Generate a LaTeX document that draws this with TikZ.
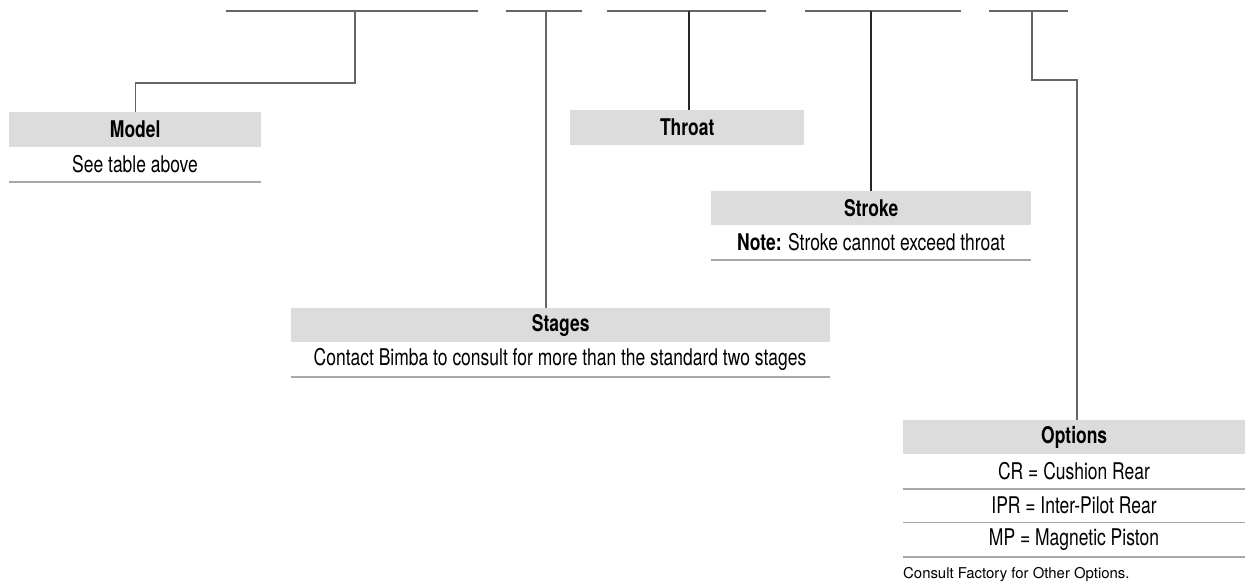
\documentclass[tikz,border=0pt]{standalone}
\usepackage{fontspec}
\setmainfont{TeX Gyre Heros}[FakeStretch=0.76]
\newfontfamily\wideheros{TeX Gyre Heros}
\definecolor{hdrgray}{HTML}{DCDCDD}
\definecolor{conngray}{HTML}{666666}
\definecolor{rowgray}{HTML}{A8A8A8}
\begin{document}
\begin{tikzpicture}[x=1pt,y=-1pt,
  hdr/.style={fill=hdrgray, inner sep=0pt, anchor=north west, text=black,
    font=\bfseries\fontsize{23}{27}\selectfont},
  rowtxt/.style={inner sep=0pt, anchor=center, text=black,
    font=\fontsize{23}{27}\selectfont},
  foot/.style={inner sep=0pt, anchor=west, text=black,
    font=\wideheros\fontsize{14.9}{17}\selectfont},
  conn/.style={draw=conngray, line width=1.2pt},
  topline/.style={draw=conngray, line width=1.4pt},
  rowline/.style={draw=rowgray, line width=1.2pt}]
\useasboundingbox (0,0) rectangle (1245,583);
% top blanks
\draw[topline] (226,11) -- (478,11);
\draw[topline] (506,11) -- (582,11);
\draw[topline] (607,11) -- (766,11);
\draw[topline] (805,11) -- (961,11);
\draw[topline] (989,11) -- (1068,11);
\coordinate (t1) at (355,11);
\coordinate (t2) at (546,11);
\coordinate (t3) at (689,11);
\coordinate (t4) at (871,11);
\coordinate (t5) at (1032,11);
\coordinate (o5) at (1077,80);
% Model
\node[hdr, minimum width=252pt, minimum height=35pt] (model) at (9,112) {Model};
\node[rowtxt] (modeltxt) at (135,164.5) {See table above};
\draw[rowline] (9,182) -- (261,182);
% Throat
\node[hdr, minimum width=234pt, minimum height=35pt] (throat) at (570,110) {Throat};
% Stroke
\node[hdr, minimum width=320pt, minimum height=34pt] (stroke) at (711,191) {Stroke};
\node[rowtxt] (stroketxt) at (871,242.5) {\textbf{Note:} Stroke cannot exceed throat};
\draw[rowline] (711,260) -- (1031,260);
% Stages
\node[hdr, minimum width=539pt, minimum height=34pt] (stages) at (291,308) {Stages};
\node[rowtxt] (stagestxt) at (560,359.5) {Contact Bimba to consult for more than the standard two stages};
\draw[rowline] (291,377) -- (830,377);
% Options
\node[hdr, minimum width=342pt, minimum height=34pt] (options) at (903,420) {Options};
\node[rowtxt] (opt1) at (1074,471.5) {CR = Cushion Rear};
\draw[rowline] (903,489) -- (1245,489);
\node[rowtxt] (opt2) at (1074,505.5) {IPR = Inter-Pilot Rear};
\draw[rowline] (903,522.5) -- (1245,522.5);
\node[rowtxt] (opt3) at (1074,539.5) {MP = Magnetic Piston};
\draw[rowline] (903,557) -- (1245,557);
\node[foot] (optfoot) at (903,575) {Consult Factory for Other Options.};
% connectors
\draw[conn] (t1) -- (355,83) -| (model.north);
\draw[conn] (t2) -- (t2 |- stages.north);
\draw[conn, draw=black!85] (t3) -- (t3 |- throat.north);
\draw[conn, draw=black!85] (t4) -- (t4 |- stroke.north);
\draw[conn] (t5) |- (o5) -- (o5 |- options.north);
\end{tikzpicture}
\end{document}
